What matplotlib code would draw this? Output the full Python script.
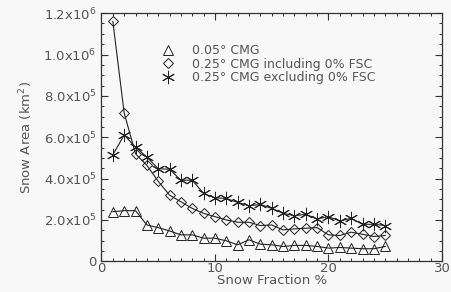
import numpy as np
import matplotlib
matplotlib.use('Agg')
import matplotlib.pyplot as plt
from matplotlib.lines import Line2D
from matplotlib.ticker import MultipleLocator, FixedLocator

# snow fraction bins (%)
frac = np.arange(1, 26)

# 0.05 deg CMG
cmg005 = [240e3, 245e3, 245e3, 176e3, 163e3, 147e3, 128e3, 128e3, 112e3, 112e3,
          99e3, 80e3, 104e3, 83e3, 80e3, 72e3, 77e3, 77e3, 72e3, 64e3,
          67e3, 64e3, 61e3, 61e3, 72e3]
# 0.25 deg CMG including 0% FSC
cmg025_inc = [1160e3, 717e3, 520e3, 464e3, 387e3, 320e3, 288e3, 256e3, 232e3, 216e3,
              200e3, 189e3, 189e3, 173e3, 176e3, 152e3, 157e3, 160e3, 163e3, 128e3,
              125e3, 141e3, 131e3, 120e3, 125e3]
# 0.25 deg CMG excluding 0% FSC
cmg025_exc = [515e3, 611e3, 552e3, 504e3, 448e3, 445e3, 392e3, 392e3, 328e3, 307e3,
              304e3, 285e3, 269e3, 275e3, 256e3, 232e3, 221e3, 227e3, 205e3, 216e3,
              195e3, 208e3, 179e3, 179e3, 173e3]

labels = ['0.05° CMG', '0.25° CMG including 0% FSC', '0.25° CMG excluding 0% FSC']
yticks = [0, 2e5, 4e5, 6e5, 8e5, 1e6, 1.2e6]
ytick_labels = ['0', r'2.0x10$^5$', r'4.0x10$^5$', r'6.0x10$^5$', r'8.0x10$^5$',
                r'1.0x10$^6$', r'1.2x10$^6$']

gray = '#555555'
bg = '#f8f8f8'
plt.rcParams['font.family'] = 'DejaVu Sans'
plt.rcParams['mathtext.default'] = 'regular'

fig = plt.figure(figsize=(4.51, 2.92), dpi=100, facecolor=bg)
ax = fig.add_axes([0.225, 0.105, 0.755, 0.85], facecolor=bg)

star = (6, 2, 0)
tri = dict(marker='^', ms=7.5, mfc='none', mec='#222222', mew=0.7)
dia = dict(marker='D', ms=5.5, mfc='none', mec='#222222', mew=0.7)
ast = dict(marker=star, ms=9.5, mfc='none', mec='#222222', mew=0.7)

ax.plot(frac, cmg005, color='#222222', lw=0.8, **tri)
ax.plot(frac, cmg025_inc, color='#222222', lw=0.8, **dia)
ax.plot(frac, cmg025_exc, color='#222222', lw=0.8, **ast)

ax.set_xlim(0, 30)
ax.set_ylim(0, 1.2e6)
ax.xaxis.set_major_locator(MultipleLocator(10))
ax.xaxis.set_minor_locator(MultipleLocator(1))
ax.yaxis.set_major_locator(FixedLocator(yticks))
ax.yaxis.set_minor_locator(MultipleLocator(5e4))
ax.set_yticklabels(ytick_labels)

ax.tick_params(which='both', direction='in', top=True, right=True,
               colors='#333333', labelcolor=gray, labelsize=9.5)
ax.tick_params(which='major', length=5, width=0.8)
ax.tick_params(which='minor', length=2.5, width=0.7)
ax.tick_params(axis='x', pad=0.5)
for s in ax.spines.values():
    s.set_color('#333333')
    s.set_linewidth(0.9)

ax.set_xlabel('Snow Fraction %', color=gray, fontsize=9.5, labelpad=-0.5)
ax.set_ylabel('Snow Area (km$^2$)', color=gray, fontsize=9.5, labelpad=6)

handles = [Line2D([], [], ls='none', **tri),
           Line2D([], [], ls='none', **dia),
           Line2D([], [], ls='none', **ast)]
leg = ax.legend(handles, labels, loc='upper left', bbox_to_anchor=(0.16, 0.9),
                frameon=False, fontsize=9, handlelength=1.0, handletextpad=1.4,
                labelspacing=0.05, borderpad=0)
for t in leg.get_texts():
    t.set_color(gray)

fig.savefig('out.png', dpi=100, facecolor=bg)
